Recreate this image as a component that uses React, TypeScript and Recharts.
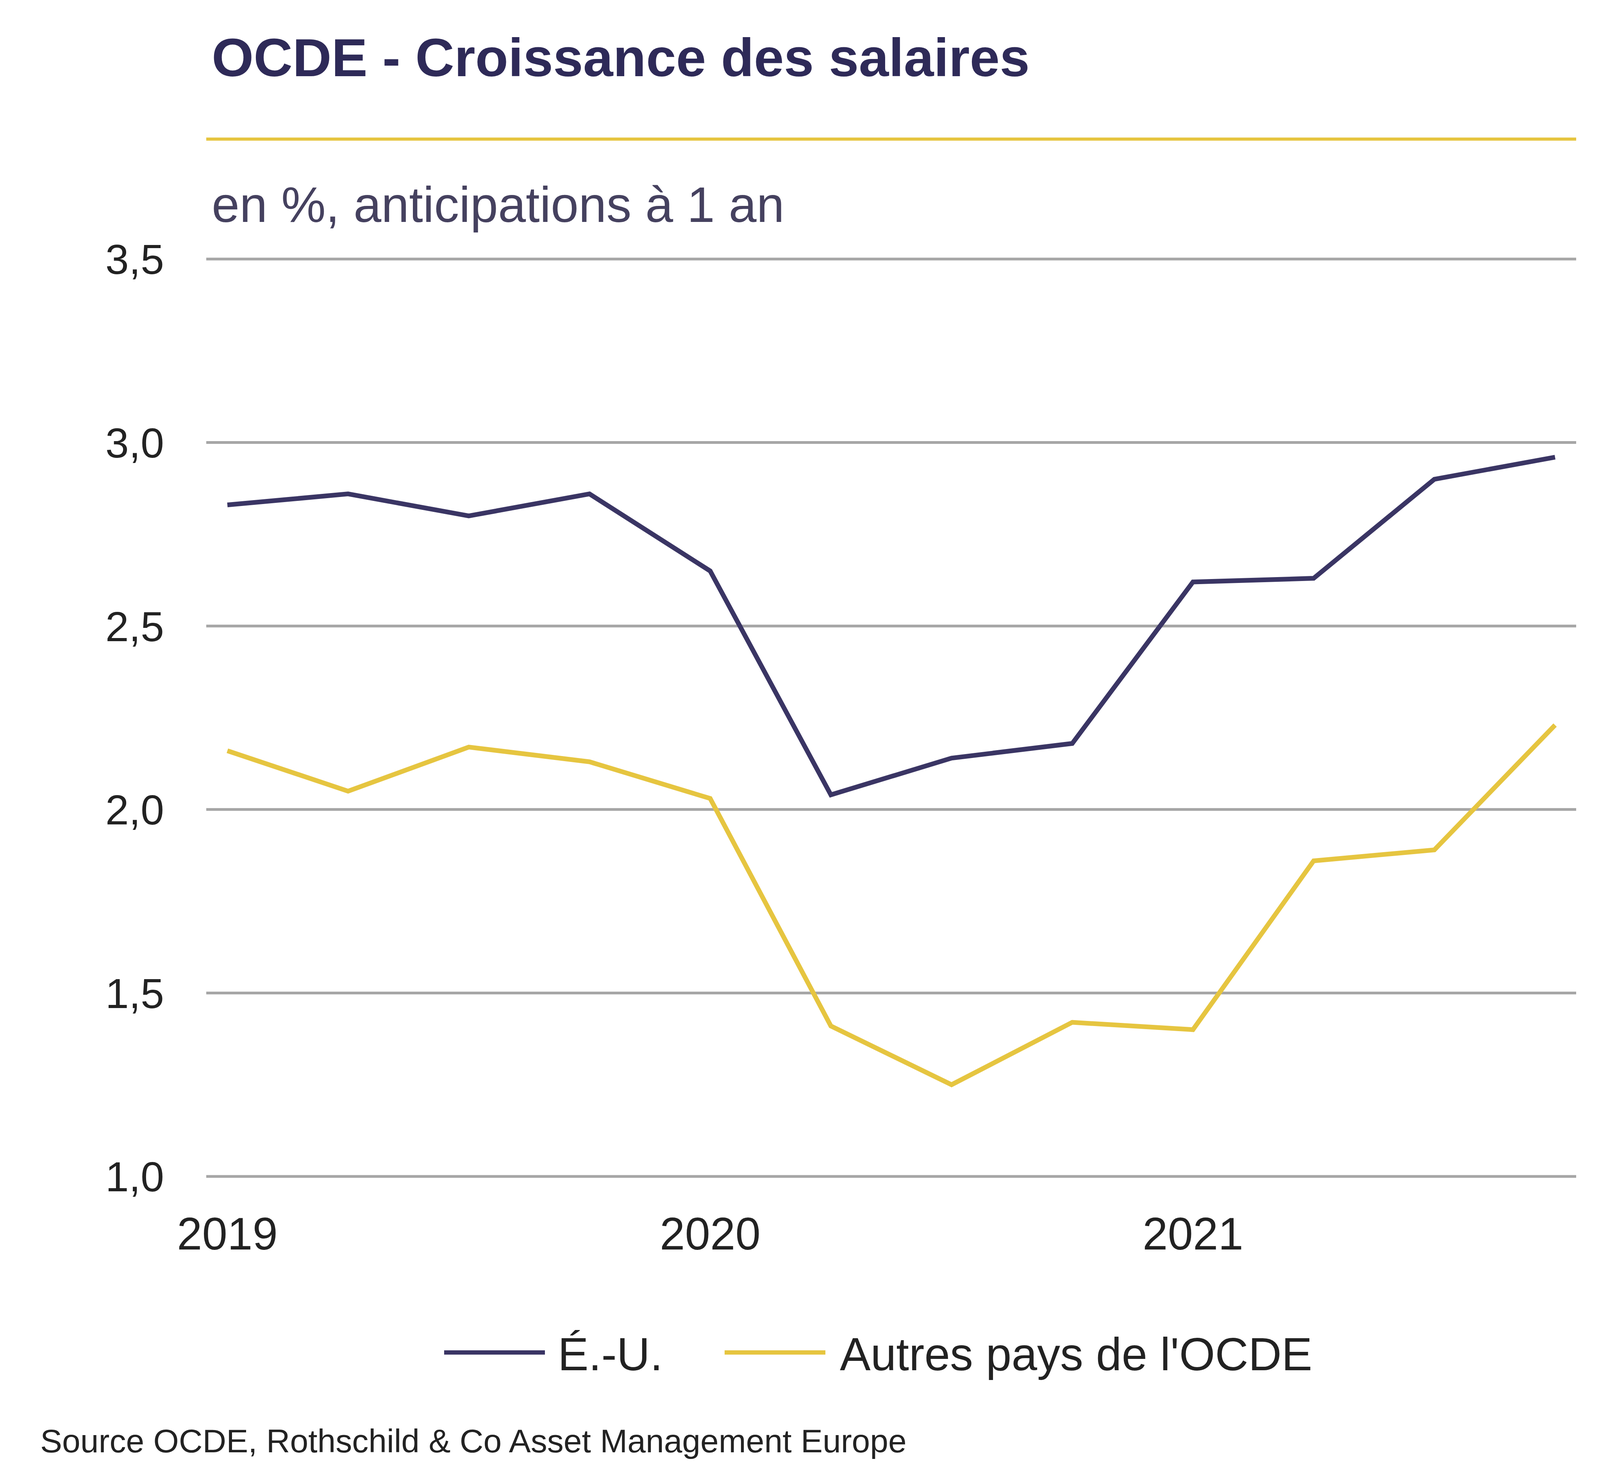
import { LineChart, Line, XAxis, YAxis, CartesianGrid } from "recharts";

// quarterly observations, 2019 Q1 .. 2021 Q4
const quarters = [0, 1, 2, 3, 4, 5, 6, 7, 8, 9, 10, 11];
const usValues = [2.83, 2.86, 2.8, 2.86, 2.65, 2.04, 2.14, 2.18, 2.62, 2.63, 2.9, 2.96];
const otherValues = [2.16, 2.05, 2.17, 2.13, 2.03, 1.41, 1.25, 1.42, 1.4, 1.86, 1.89, 2.23];
const yearTicks = [0, 4, 8];
const yearLabels = ["2019", "2020", "2021"];
const yTicks = [1, 1.5, 2, 2.5, 3, 3.5];

const NAVY = "#3a3564";
const YELLOW = "#e6c540";
const FONT = "'Liberation Sans', Arial, sans-serif";

const data = quarters.map((q, i) => ({ q, us: usValues[i], other: otherValues[i] }));

export default function App() {
  return (
    <div style={{ position: "absolute", left: 0, top: 0, width: 4224, height: 3770, background: "#fff", fontFamily: FONT }}>
      <div style={{ position: "absolute", left: 542, top: 68, fontSize: 138, fontWeight: "bold", color: "#2e2a58" }}>
        OCDE - Croissance des salaires
      </div>
      <div style={{ position: "absolute", left: 528, top: 352, width: 3507, height: 8, background: YELLOW }} />
      <div style={{ position: "absolute", left: 542, top: 450, fontSize: 128, color: "#45415f" }}>
        en %, anticipations à 1 an
      </div>
      <div style={{ position: "absolute", left: 0, top: 0 }}>
        <LineChart width={4224} height={3770} data={data} margin={{ top: 663, bottom: 459, left: 228, right: 189 }}>
          <CartesianGrid vertical={false} stroke="#a6a6a6" strokeWidth={7} />
          <XAxis
            dataKey="q"
            type="number"
            domain={[-0.175, 11.175]}
            ticks={yearTicks}
            tickFormatter={(v: number) => yearLabels[yearTicks.indexOf(v)]}
            height={300}
            axisLine={false}
            tickLine={false}
            tickSize={0}
            tickMargin={105}
            tick={{ fontSize: 116, fill: "#222", fontFamily: FONT }}
          />
          <YAxis
            domain={[1, 3.5]}
            ticks={yTicks}
            tickFormatter={(v: number) => v.toFixed(1).replace(".", ",")}
            width={300}
            axisLine={false}
            tickLine={false}
            tickSize={0}
            tickMargin={108}
            tick={{ fontSize: 108, fill: "#222", fontFamily: FONT }}
          />
          <Line dataKey="us" stroke={NAVY} strokeWidth={12} dot={false} type="linear" isAnimationActive={false} />
          <Line dataKey="other" stroke={YELLOW} strokeWidth={12} dot={false} type="linear" isAnimationActive={false} />
        </LineChart>
      </div>
      <div style={{ position: "absolute", left: 1137, top: 3456, width: 258, height: 11, background: NAVY }} />
      <div style={{ position: "absolute", left: 1428, top: 3398, fontSize: 118, color: "#222" }}>É.-U.</div>
      <div style={{ position: "absolute", left: 1855, top: 3456, width: 258, height: 11, background: YELLOW }} />
      <div style={{ position: "absolute", left: 2150, top: 3398, fontSize: 118, color: "#222" }}>Autres pays de l'OCDE</div>
      <div style={{ position: "absolute", left: 103, top: 3640, fontSize: 84, color: "#222" }}>
        Source OCDE, Rothschild &amp; Co Asset Management Europe
      </div>
    </div>
  );
}
